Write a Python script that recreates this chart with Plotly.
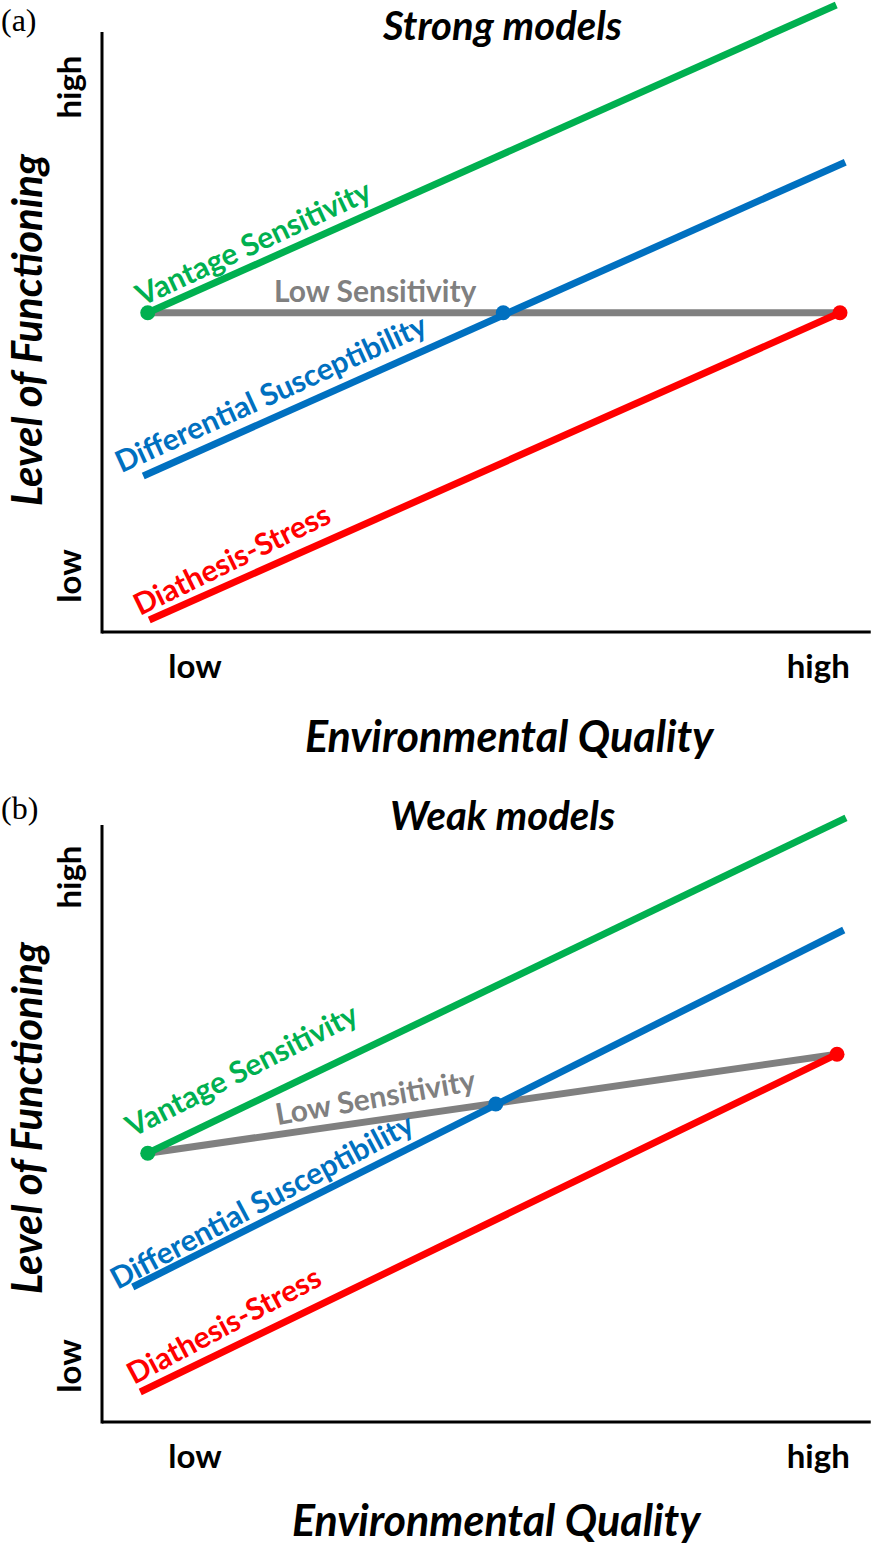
import plotly.graph_objects as go

# ---------------- data ----------------
# Panel (a) Strong models : [x_low, x_high], [y_low, y_high]
strong_vantage_x = [6.1, 97.9]
strong_vantage_y = [53.2, 104.5]
strong_diff_x = [5.5, 99.1]
strong_diff_y = [26.0, 78.3]
strong_diath_x = [6.3, 98.4]
strong_diath_y = [2.0, 53.2]
strong_low_x = [6.1, 98.4]
strong_low_y = [53.2, 53.2]
strong_cross = [53.5, 53.2]

# Panel (b) Weak models
weak_vantage_x = [6.1, 99.2]
weak_vantage_y = [44.8, 100.7]
weak_diff_x = [4.1, 98.9]
weak_diff_y = [22.5, 82.0]
weak_diath_x = [5.1, 98.0]
weak_diath_y = [5.0, 61.3]
weak_low_x = [6.1, 98.0]
weak_low_y = [44.8, 61.3]
weak_cross = [52.5, 53.0]

x_tick_vals = [12.4, 95.5]
x_tick_text = ["low", "high"]
y_tick_vals = [8.5, 90.0]
y_tick_text = ["low", "high"]

GREEN = "#00B050"
BLUE = "#0070C0"
RED = "#FF0000"
GRAY = "#808080"
FONT = "Lato"
LW = 7

W, H = 875, 1546

fig = go.Figure()


def add_panel(xa, ya, vx, vy, dx, dy, rx, ry, lx, ly, cross):
    fig.add_trace(go.Scatter(x=lx, y=ly, mode="lines", line=dict(color=GRAY, width=LW),
                             xaxis=xa, yaxis=ya, showlegend=False, hoverinfo="skip"))
    fig.add_trace(go.Scatter(x=vx, y=vy, mode="lines", line=dict(color=GREEN, width=LW),
                             xaxis=xa, yaxis=ya, showlegend=False, hoverinfo="skip"))
    fig.add_trace(go.Scatter(x=dx, y=dy, mode="lines", line=dict(color=BLUE, width=LW),
                             xaxis=xa, yaxis=ya, showlegend=False, hoverinfo="skip"))
    fig.add_trace(go.Scatter(x=rx, y=ry, mode="lines", line=dict(color=RED, width=LW),
                             xaxis=xa, yaxis=ya, showlegend=False, hoverinfo="skip"))
    # dots
    fig.add_trace(go.Scatter(x=[vx[0]], y=[vy[0]], mode="markers",
                             marker=dict(color=GREEN, size=15), xaxis=xa, yaxis=ya,
                             showlegend=False, hoverinfo="skip"))
    fig.add_trace(go.Scatter(x=[cross[0]], y=[cross[1]], mode="markers",
                             marker=dict(color=BLUE, size=15), xaxis=xa, yaxis=ya,
                             showlegend=False, hoverinfo="skip"))
    fig.add_trace(go.Scatter(x=[rx[1]], y=[ry[1]], mode="markers",
                             marker=dict(color=RED, size=15), xaxis=xa, yaxis=ya,
                             showlegend=False, hoverinfo="skip"))


add_panel("x", "y", strong_vantage_x, strong_vantage_y, strong_diff_x, strong_diff_y,
          strong_diath_x, strong_diath_y, strong_low_x, strong_low_y, strong_cross)
add_panel("x2", "y2", weak_vantage_x, weak_vantage_y, weak_diff_x, weak_diff_y,
          weak_diath_x, weak_diath_y, weak_low_x, weak_low_y, weak_cross)

xdom = [94.5 / W, 874.5 / W]
xrange = [-1, 103]

xaxis_common = dict(range=xrange, domain=xdom, showgrid=False, zeroline=False, showline=False,
                    tickvals=x_tick_vals, ticktext=x_tick_text, ticks="",
                    tickfont=dict(family=FONT, size=33, color="black", weight="bold"),
                    ticklabelstandoff=6, fixedrange=True)
yaxis_common = dict(showgrid=False, zeroline=False, showline=False,
                    tickvals=y_tick_vals, ticktext=y_tick_text, ticks="", tickangle=-90,
                    tickfont=dict(family=FONT, size=33, color="black", weight="bold"),
                    ticklabelstandoff=6, fixedrange=True)

fig.update_layout(
    width=W, height=H,
    margin=dict(l=0, r=0, t=0, b=0),
    paper_bgcolor="white", plot_bgcolor="white",
    xaxis=dict(**xaxis_common, anchor="y"),
    yaxis=dict(**yaxis_common, anchor="x", range=[-1, 632 / 6],
               domain=[(H - 638) / H, 1.0]),
    xaxis2=dict(**xaxis_common, anchor="y2"),
    yaxis2=dict(**yaxis_common, anchor="x2", range=[-1, 103],
                domain=[(H - 1428) / H, (H - 804) / H]),
)

# axis spines
for xr, yr, ytop in [("x", "y", 100), ("x2", "y2", 99.5)]:
    fig.add_shape(type="line", xref=xr, yref=yr, x0=0, x1=0, y0=-0.25, y1=ytop,
                  line=dict(color="black", width=3))
    fig.add_shape(type="line", xref=xr, yref=yr, x0=0, x1=102.5, y0=0, y1=0,
                  line=dict(color="black", width=3))

anns = []


def lab(text, x, y, ang, color, xr, yr, size=30):
    anns.append(dict(text=text, x=x, y=y, xref=xr, yref=yr, showarrow=False,
                     textangle=ang, xanchor="center", yanchor="middle",
                     font=dict(family=FONT, size=size, color=color, weight="bold")))


# panel (a) line labels
lab("Vantage Sensitivity", 20.0, 65.0, -25, GREEN, "x", "y")
lab("Low Sensitivity", 36.4, 57.0, 0, GRAY, "x", "y")
lab("Differential Susceptibility", 22.5, 40.0, -24.5, BLUE, "x", "y")
lab("Diathesis-Stress", 17.3, 12.3, -26, RED, "x", "y")
# panel (b) line labels
lab("Vantage Sensitivity", 18.5, 58.9, -27, GREEN, "x2", "y2")
lab("Low Sensitivity", 36.4, 54.3, -10, GRAY, "x2", "y2")
lab("Differential Susceptibility", 21.2, 37.0, -28, BLUE, "x2", "y2")
lab("Diathesis-Stress", 16.2, 16.3, -28, RED, "x2", "y2")


def paper(text, px, py, size, angle=0, family=FONT, bold=True, italic=True,
          xa="center", ya="middle"):
    anns.append(dict(text=text, x=px / W, y=1 - py / H, xref="paper", yref="paper",
                     showarrow=False, textangle=angle, xanchor=xa, yanchor=ya,
                     borderpad=0,
                     font=dict(family=family, size=size, color="black",
                               weight="bold" if bold else "normal",
                               style="italic" if italic else "normal")))


paper("Strong models", 502, 0, 40, ya="top")
paper("Weak models", 502, 815, 40)
paper("Environmental Quality", 510, 735, 43)
paper("Environmental Quality", 497, H, 43, ya="bottom")
paper("Level of Functioning", 0, 330, 42, angle=-90, xa="left")
paper("Level of Functioning", 0, 1118, 42, angle=-90, xa="left")
paper("(a)", 0, 20, 32, family="Liberation Serif", bold=False, italic=False, xa="left")
paper("(b)", 0, 808, 32, family="Liberation Serif", bold=False, italic=False, xa="left")

fig.update_layout(annotations=anns)

fig.write_html("out.html", config={"displayModeBar": False},
               post_script="document.body.style.margin='0';document.body.style.padding='0';")
